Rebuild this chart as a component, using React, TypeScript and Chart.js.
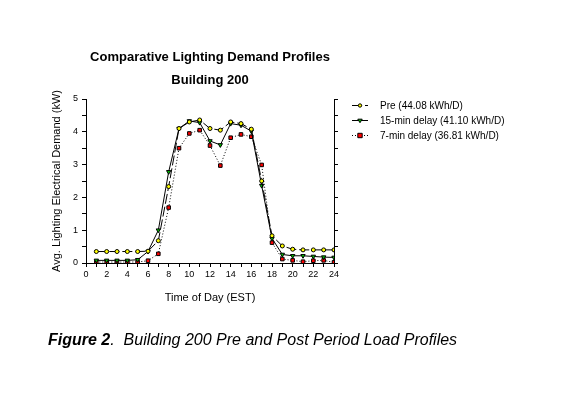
import React, { useEffect, useRef } from "react";
import { Chart, registerables } from "chart.js";

Chart.register(...registerables);

// ---- data ----
const hours = [1, 2, 3, 4, 5, 6, 7, 8, 9, 10, 11, 12, 13, 14, 15, 16, 17, 18, 19, 20, 21, 22, 23, 24];
const preValues = [0.35, 0.35, 0.35, 0.35, 0.35, 0.36, 0.68, 2.33, 4.1, 4.3, 4.36, 4.1, 4.05, 4.3, 4.25, 4.08, 2.5, 0.83, 0.52, 0.42, 0.4, 0.4, 0.4, 0.4];
const delay15Values = [0.08, 0.08, 0.08, 0.08, 0.1, 0.35, 1.0, 2.78, 4.1, 4.33, 4.28, 3.72, 3.6, 4.25, 4.2, 4.02, 2.36, 0.75, 0.26, 0.22, 0.22, 0.2, 0.18, 0.17];
const delay7Values = [0.03, 0.03, 0.03, 0.03, 0.03, 0.07, 0.28, 1.69, 3.5, 3.95, 4.05, 3.58, 2.97, 3.82, 3.92, 3.85, 2.99, 0.62, 0.12, 0.08, 0.04, 0.07, 0.08, 0.02];
const seriesLabels = ["Pre (44.08 kWh/D)", "15-min delay (41.10 kWh/D)", "7-min delay (36.81 kWh/D)"];
const titleLines = ["Comparative Lighting Demand Profiles", "Building 200"];
const xAxisTitle = "Time of Day (EST)";
const yAxisTitle = "Avg. Lighting Electrical Demand (kW)";
const captionBold = "Figure 2";
const captionRest = ".  Building 200 Pre and Post Period Load Profiles";
const xMin = 0, xMax = 24, yMin = 0, yMax = 5;

const FONT = "'Liberation Sans', Arial, sans-serif";

const seriesStyles = [
  { color: "#000", fill: "#ffff00", pointStyle: "circle", radius: 2, dash: [10, 3], rotation: 0 },
  { color: "#000", fill: "#00c000", pointStyle: "triangle", radius: 2.5, dash: [], rotation: 180 },
  { color: "#000", fill: "#ff0000", pointStyle: "rect", radius: 2.5, dash: [1, 2], rotation: 0 },
];
const seriesValues = [preValues, delay15Values, delay7Values];

function drawMarker(ctx: CanvasRenderingContext2D, style: string, x: number, y: number, r: number, rot: number) {
  ctx.beginPath();
  if (style === "circle") {
    ctx.arc(x, y, r, 0, Math.PI * 2);
  } else if (style === "rect") {
    ctx.rect(x - r, y - r, 2 * r, 2 * r);
  } else {
    const dir = rot === 180 ? 1 : -1;
    ctx.moveTo(x - r, y - dir * r * 0.6);
    ctx.lineTo(x + r, y - dir * r * 0.6);
    ctx.lineTo(x, y + dir * r);
    ctx.closePath();
  }
  ctx.fill();
  ctx.stroke();
}

const textPlugin = {
  id: "textPlugin",
  beforeDraw(chart: any) {
    const ctx = chart.ctx;
    ctx.save();
    ctx.fillStyle = "#fff";
    ctx.fillRect(0, 0, chart.width, chart.height);
    ctx.restore();
  },
  afterDraw(chart: any) {
    const ctx = chart.ctx;
    const area = chart.chartArea;
    const cx = (area.left + area.right) / 2;
    ctx.save();
    ctx.fillStyle = "#000";
    ctx.textAlign = "center";
    ctx.textBaseline = "middle";
    ctx.font = `bold 13px ${FONT}`;
    ctx.fillText(titleLines[0], cx, 57);
    ctx.fillText(titleLines[1], cx, 80);

    ctx.font = `11px ${FONT}`;
    ctx.fillText(xAxisTitle, cx, 298);
    ctx.save();
    ctx.translate(57, (area.top + area.bottom) / 2);
    ctx.rotate(-Math.PI / 2);
    ctx.fillText(yAxisTitle, 0, 0);
    ctx.restore();

    // legend
    const rows = [105, 120, 135];
    ctx.font = `10px ${FONT}`;
    ctx.textAlign = "left";
    seriesLabels.forEach((label, i) => {
      const s = seriesStyles[i];
      const y = rows[i];
      ctx.save();
      ctx.strokeStyle = s.color;
      ctx.lineWidth = 1;
      ctx.setLineDash(s.dash);
      ctx.beginPath();
      ctx.moveTo(352, y + 0.5);
      ctx.lineTo(368, y + 0.5);
      ctx.stroke();
      ctx.restore();
      ctx.save();
      ctx.fillStyle = s.fill;
      ctx.strokeStyle = "#000";
      ctx.lineWidth = 1;
      drawMarker(ctx, s.pointStyle, 360, y + 0.5, s.radius - 0.3, s.rotation);
      ctx.restore();
      ctx.fillStyle = "#000";
      ctx.fillText(label, 380, y + 1);
    });

    // caption
    ctx.textAlign = "left";
    ctx.font = `italic bold 16px ${FONT}`;
    ctx.fillText(captionBold, 48, 341);
    const w = ctx.measureText(captionBold).width;
    ctx.font = `italic 16px ${FONT}`;
    ctx.fillText(captionRest, 48 + w, 341);
    ctx.restore();
  },
};

export default function App() {
  const ref = useRef<HTMLCanvasElement | null>(null);
  useEffect(() => {
    document.body.style.margin = "0";
    const canvas = ref.current!;
    const tickFont = { family: FONT, size: 9 };
    const chart = new Chart(canvas, {
      type: "line",
      data: {
        labels: hours,
        datasets: seriesValues.map((vals, i) => ({
          label: seriesLabels[i],
          data: vals.map((v, j) => ({ x: hours[j], y: v })),
          borderColor: seriesStyles[i].color,
          borderWidth: 1,
          borderDash: seriesStyles[i].dash,
          backgroundColor: seriesStyles[i].fill,
          pointBackgroundColor: seriesStyles[i].fill,
          pointBorderColor: "#000",
          pointBorderWidth: 1,
          pointStyle: seriesStyles[i].pointStyle as any,
          pointRotation: seriesStyles[i].rotation,
          pointRadius: seriesStyles[i].radius,
          tension: 0,
          fill: false,
        })),
      },
      options: {
        animation: false,
        responsive: false,
        devicePixelRatio: 1,
        layout: { padding: { left: 56, right: 224, top: 99, bottom: 115 } },
        plugins: { legend: { display: false }, tooltip: { enabled: false }, title: { display: false } },
        scales: {
          x: {
            type: "linear",
            min: xMin,
            max: xMax,
            afterFit: (s: any) => { s.height = 20; },
            ticks: {
              stepSize: 1,
              autoSkip: false,
              maxRotation: 0,
              color: "#000",
              font: tickFont,
              padding: 2,
              callback: (v: any) => (Number(v) % 2 === 0 ? String(v) : ""),
            },
            grid: { drawOnChartArea: false, tickLength: 4, color: "#000" },
            border: { color: "#000", width: 1 },
          },
          y: {
            min: yMin,
            max: yMax,
            position: "left",
            afterFit: (s: any) => { s.width = 30; },
            ticks: {
              stepSize: 0.5,
              color: "#000",
              font: tickFont,
              padding: 4,
              callback: (v: any) => (Number.isInteger(Number(v)) ? String(v) : ""),
            },
            grid: { drawOnChartArea: false, tickLength: 4, color: "#000" },
            border: { color: "#000", width: 1 },
          },
          y2: {
            min: yMin,
            max: yMax,
            position: "right",
            afterFit: (s: any) => { s.width = 10; },
            ticks: { stepSize: 0.5, callback: () => "", font: tickFont },
            grid: { drawOnChartArea: false, tickLength: 4, color: "#000" },
            border: { color: "#000", width: 1 },
          },
        },
      } as any,
      plugins: [textPlugin],
    });
    return () => chart.destroy();
  }, []);
  return (
    <div style={{ width: 568, height: 398, background: "#fff" }}>
      <canvas ref={ref} width={568} height={398} style={{ display: "block" }} />
    </div>
  );
}
